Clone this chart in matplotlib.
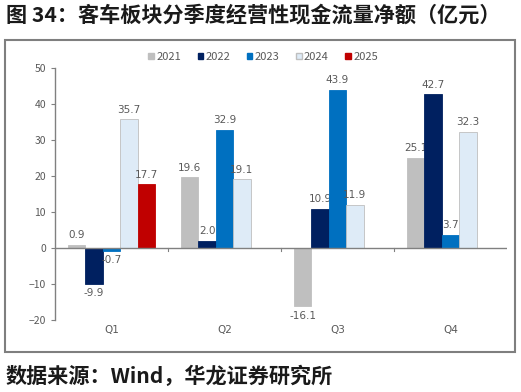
import matplotlib
matplotlib.use("Agg")
import matplotlib.pyplot as plt
import numpy as np
from matplotlib.patches import Rectangle, Patch

plt.rcParams['font.family'] = ['Noto Sans CJK SC', 'DejaVu Sans']

categories = ["Q1", "Q2", "Q3", "Q4"]
series_names = ["2021", "2022", "2023", "2024", "2025"]
v2021 = [0.9, 19.6, -16.1, 25.1]
v2022 = [-9.9, 2.0, 10.9, 42.7]
v2023 = [-0.7, 32.9, 43.9, 3.7]
v2024 = [35.7, 19.1, 11.9, 32.3]
v2025 = [17.7, None, None, None]
values = [v2021, v2022, v2023, v2024, v2025]
colors = ["#BFBFBF", "#002060", "#0070C0", "#DEEBF7", "#C00000"]
edges = ["#BFBFBF", "#002060", "#0070C0", "#BFBFBF", "#C00000"]

fig = plt.figure(figsize=(5.21, 3.92), dpi=100)
ax = fig.add_axes([55/521, 1-320/392, (507-55)/521, (320-68)/392])

x = np.arange(len(categories))
n = len(series_names)
group = 0.77
w = group / n
txtc = "#595959"
for i, (name, vals) in enumerate(zip(series_names, values)):
    xs = x - group/2 + w/2 + i*w
    for xi, v in zip(xs, vals):
        if v is None:
            continue
        ax.bar(xi, v, width=w, color=colors[i], edgecolor=edges[i], linewidth=0.6,
               zorder=2+2*i)
        off = 1.3 if v >= 0 else -1.3
        ax.text(xi, v + off, f"{v:.1f}", ha='center', va='bottom' if v >= 0 else 'top',
                fontsize=7.5, color=txtc, zorder=3+2*i, family='DejaVu Sans')

ax.set_xlim(-0.5, 3.5)
ax.set_ylim(-20, 50)
ax.set_yticks(range(-20, 51, 10))
ax.tick_params(axis='y', labelsize=7.5, labelcolor=txtc, color="#808080", length=3, width=0.8)
ax.set_xticks([])
for s in ['top', 'right', 'bottom']:
    ax.spines[s].set_visible(False)
ax.spines['left'].set_color("#808080")
ax.spines['left'].set_linewidth(1.0)
ax.axhline(0, color="#808080", linewidth=1.0, zorder=20)
for b in [0.5, 1.5, 2.5]:
    ax.plot([b, b], [0, -0.9], color="#808080", linewidth=0.8, zorder=20, clip_on=False)
for xi, c in zip(x, categories):
    ax.text(xi, -22.8, c, ha='center', va='center', fontsize=7.5, color=txtc,
            family='DejaVu Sans')

handles = [Patch(facecolor=colors[i], edgecolor=edges[i], label=series_names[i]) for i in range(n)]
leg = fig.legend(handles=handles, loc='center', bbox_to_anchor=(0.505, 1-57/392), ncol=5,
                 frameon=False, fontsize=8, handlelength=0.5, handleheight=0.5,
                 handletextpad=0.2, columnspacing=1.5)
for t in leg.get_texts():
    t.set_color(txtc)

fig.patches.append(Rectangle((5/521, 1-352/392), 510/521, (352-40)/392, transform=fig.transFigure,
                             fill=False, edgecolor="#7F7F7F", linewidth=1.5))

fig.text(6/521, 1-15/392, "图 34：客车板块分季度经营性现金流量净额（亿元）", fontsize=15.2,
         fontweight='bold', va='center', ha='left', color="#1a1a1a")
fig.text(6/521, 1-376/392, "数据来源：Wind，华龙证券研究所", fontsize=15.2,
         fontweight='bold', va='center', ha='left', color="#1a1a1a")

fig.savefig("out.png", dpi=100)
